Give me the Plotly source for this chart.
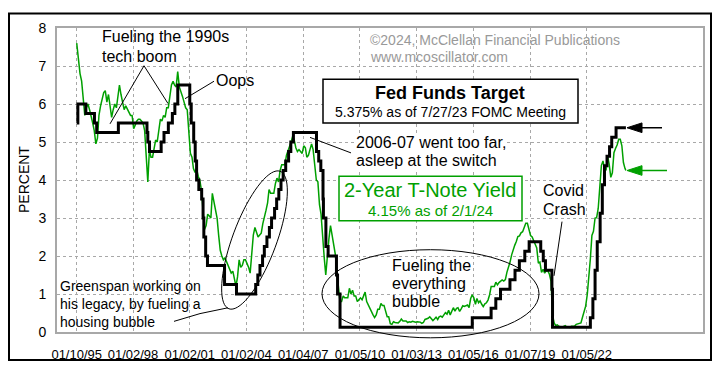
import plotly.graph_objects as go
import numpy as np

# ---------------- DATA ----------------
ff_dates = ["1995-01-10","1995-02-01","1995-07-06","1995-12-19","1996-01-31","1997-03-25",
            "1998-09-29","1998-10-15","1998-11-17","1999-06-30","1999-08-24","1999-11-16",
            "2000-02-02","2000-03-21","2000-05-16","2001-01-03","2001-01-31","2001-03-20",
            "2001-04-18","2001-05-15","2001-06-27","2001-08-21","2001-09-17","2001-10-02",
            "2001-11-06","2001-12-11","2002-11-06","2003-06-25","2004-06-30","2004-08-10",
            "2004-09-21","2004-11-10","2004-12-14","2005-02-02","2005-03-22","2005-05-03",
            "2005-06-30","2005-08-09","2005-09-20","2005-11-01","2005-12-13","2006-01-31",
            "2006-03-28","2006-05-10","2006-06-29","2007-09-18","2007-10-31","2007-12-11",
            "2008-01-22","2008-01-30","2008-03-18","2008-04-30","2008-10-08","2008-10-29",
            "2008-12-16","2015-12-16","2016-12-14","2017-03-15","2017-06-14","2017-12-13",
            "2018-03-21","2018-06-13","2018-09-26","2018-12-19","2019-07-31","2019-09-18",
            "2019-10-30","2020-03-03","2020-03-15","2022-03-16","2022-05-04","2022-06-15",
            "2022-07-27","2022-09-21","2022-11-02","2022-12-14","2023-02-01","2023-03-22",
            "2023-05-03","2023-07-26","2024-02-01"]
ff_values = [5.5,6.0,5.75,5.5,5.25,5.5,
             5.25,5.0,4.75,5.0,5.25,5.5,
             5.75,6.0,6.5,6.0,5.5,5.0,
             4.5,4.0,3.75,3.5,3.0,2.5,
             2.0,1.75,1.25,1.0,1.25,1.5,
             1.75,2.0,2.25,2.5,2.75,3.0,
             3.25,3.5,3.75,4.0,4.25,4.5,
             4.75,5.0,5.25,4.75,4.5,4.25,
             3.5,3.0,2.25,2.0,1.5,1.0,
             0.125,0.375,0.625,0.875,1.125,1.375,
             1.625,1.875,2.125,2.375,2.125,1.875,
             1.625,1.125,0.125,0.375,0.875,1.625,
             2.375,3.125,3.875,4.375,4.625,4.875,
             5.125,5.375,5.375]

y2_1995 = [7.6,7.1,6.8,6.6,6.1,5.7,5.9,6.0,5.85,5.7,5.5,5.3]
y2_1996 = [4.95,5.1,5.7,5.95,6.1,6.3,6.35,6.05,6.25,5.9,5.65,5.85]
y2_1997 = [6.0,5.9,6.25,6.5,6.25,6.05,5.85,5.95,5.85,5.75,5.7,5.7]
y2_1998 = [5.35,5.45,5.55,5.6,5.6,5.55,5.5,5.3,4.7,3.95,4.8,4.6]
y2_1999 = [4.6,4.9,5.05,5.0,5.3,5.6,5.55,5.7,5.65,5.9,5.9,6.15]
y2_2000 = [6.5,6.6,6.5,6.45,6.85,6.45,6.35,6.2,6.05,5.9,5.85,5.3]
y2_2001 = [4.7,4.6,4.3,4.2,4.3,4.1,4.0,3.75,3.1,2.7,2.8,3.1]
y2_2002 = [3.05,3.0,3.65,3.4,3.25,3.0,2.55,2.15,2.0,1.9,1.95,1.85]
y2_2003 = [1.75,1.65,1.55,1.6,1.4,1.2,1.45,1.9,1.7,1.75,1.9,1.9]
y2_2004 = [1.8,1.7,1.55,2.1,2.55,2.75,2.65,2.5,2.55,2.6,2.85,3.0]
y2_2005 = [3.2,3.4,3.75,3.65,3.65,3.65,3.9,4.05,3.95,4.25,4.4,4.4]
y2_2006 = [4.4,4.65,4.75,4.9,5.0,5.15,5.05,4.85,4.75,4.8,4.75,4.7]
y2_2007 = [4.9,4.85,4.6,4.65,4.8,4.95,4.8,4.3,4.0,3.95,3.35,3.1]
y2_2008 = [2.45,1.95,1.5,2.05,2.45,2.8,2.55,2.4,2.05,1.6,1.2,0.8]
y2_2009 = [0.8,0.95,0.9,0.9,0.9,1.15,1.0,1.1,0.95,0.95,0.8,0.85]
y2_2010 = [0.9,0.85,0.95,1.05,0.8,0.7,0.6,0.5,0.45,0.38,0.45,0.6]
y2_2011 = [0.6,0.75,0.7,0.7,0.55,0.4,0.4,0.22,0.2,0.27,0.25,0.25]
y2_2012 = [0.24,0.28,0.34,0.29,0.29,0.29,0.25,0.27,0.26,0.28,0.27,0.26]
y2_2013 = [0.27,0.27,0.26,0.23,0.25,0.33,0.34,0.36,0.4,0.34,0.3,0.34]
y2_2014 = [0.39,0.33,0.4,0.42,0.39,0.45,0.51,0.47,0.57,0.45,0.53,0.64]
y2_2015 = [0.55,0.62,0.64,0.54,0.61,0.69,0.67,0.7,0.71,0.64,0.88,0.98]
y2_2016 = [0.9,0.73,0.88,0.77,0.82,0.73,0.67,0.74,0.77,0.84,0.98,1.2]
y2_2017 = [1.21,1.2,1.31,1.24,1.3,1.34,1.37,1.34,1.38,1.57,1.7,1.84]
y2_2018 = [2.03,2.18,2.28,2.38,2.51,2.53,2.61,2.64,2.77,2.86,2.86,2.68]
y2_2019 = [2.54,2.5,2.41,2.34,2.21,1.81,1.84,1.57,1.65,1.55,1.61,1.61]
y2_2020 = [1.52,1.33,0.45,0.24,0.17,0.19,0.15,0.14,0.13,0.15,0.17,0.13]
y2_2021 = [0.13,0.12,0.15,0.16,0.16,0.2,0.22,0.22,0.24,0.39,0.52,0.68]
y2_2022 = [0.98,1.44,1.91,2.54,2.65,3.0,3.01,3.25,3.86,4.38,4.5,4.29]
y2_2023 = [4.27,4.62,4.41,4.07,4.19,4.72,4.83,4.92,5.07,5.07,4.9,4.46]
y2_2024 = [4.3,4.25]

tick_dates = ["1995-01-10","1998-01-02","2001-01-02","2004-01-02","2007-01-04",
              "2010-01-05","2013-01-03","2016-01-05","2019-01-07","2022-01-05"]
tick_labels = ["01/10/95","01/02/98","01/02/01","01/02/04","01/04/07",
               "01/05/10","01/03/13","01/05/16","01/07/19","01/05/22"]

# assemble yield series (monthly)
years = list(range(1995, 2024))
y2_by_year = [y2_1995,y2_1996,y2_1997,y2_1998,y2_1999,y2_2000,y2_2001,y2_2002,y2_2003,
              y2_2004,y2_2005,y2_2006,y2_2007,y2_2008,y2_2009,y2_2010,y2_2011,y2_2012,
              y2_2013,y2_2014,y2_2015,y2_2016,y2_2017,y2_2018,y2_2019,y2_2020,y2_2021,
              y2_2022,y2_2023]
y2_dates, y2_values = [], []
for yr, vals in zip(years, y2_by_year):
    for m, v in enumerate(vals):
        day = "10" if (yr == 1995 and m == 0) else "15"
        y2_dates.append(f"{yr}-{m+1:02d}-{day}")
        y2_values.append(v)
y2_dates += ["2024-01-15", "2024-02-01"]
y2_values += y2_2024

# ---------------- LAYOUT HELPERS ----------------
# The page body has an 8px margin, so the figure starts at page (8, 8).
OFF = 8
W, H = 726 - 2 * OFF, 382 - 2 * OFF
L, R, T, B = 57, 703, 24, 338          # plot area in page pixels
def px(x): return (x - L) / (R - L)
def py(y): return (B - y) / (B - T)

FONT = "Liberation Sans, Arial, sans-serif"
GREEN = "#00a000"
GRID = "#a8a8a8"

fig = go.Figure()
fig.add_trace(go.Scatter(x=y2_dates, y=y2_values, mode="lines",
                         line=dict(color=GREEN, width=1.5), hoverinfo="skip"))
fig.add_trace(go.Scatter(x=ff_dates, y=ff_values, mode="lines", line_shape="hv",
                         line=dict(color="black", width=3), hoverinfo="skip"))

shapes = []
annotations = []

def text(x, y, s, size=16, color="black", anchor="left", bold=False, bg=None):
    a = dict(x=px(x), y=py(y), xref="paper", yref="paper", text=("<b>%s</b>" % s) if bold else s,
             showarrow=False, xanchor=anchor, yanchor="middle", align="left",
             font=dict(family=FONT, size=size, color=color))
    if bg:
        a["bgcolor"] = bg
        a["borderpad"] = 0
    annotations.append(a)

def line(x0, y0, x1, y1, color="black", width=1):
    shapes.append(dict(type="line", xref="paper", yref="paper", x0=px(x0), y0=py(y0),
                       x1=px(x1), y1=py(y1), line=dict(color=color, width=width)))

def rect(x0, y0, x1, y1, color, width=1.5, fill=None):
    shapes.append(dict(type="rect", xref="paper", yref="paper", x0=px(x0), y0=py(y1),
                       x1=px(x1), y1=py(y0), line=dict(color=color, width=width),
                       fillcolor=fill or "rgba(0,0,0,0)", layer="above"))

# outer border
rect(9, 9, 711, 367, "black", 2)

# Fueling 1990s
text(100, 33, "Fueling the 1990s")
text(100, 53, "tech boom")
line(144, 63, 110, 123)
line(144, 63, 168, 102)
# Oops
text(214, 78, "Oops")
line(214, 79, 185, 97)
# copyright
text(368, 36, "©2024, McClellan Financial Publications", size=14, color="#999999")
text(368, 54, "www.mcoscillator.com", size=14, color="#999999")
# Fed funds box
rect(323, 77, 578, 122, "black", 1.5, "white")
text(450, 91, "Fed Funds Target", size=18, anchor="center", bold=True)
text(450, 111, "5.375% as of 7/27/23 FOMC Meeting", size=14, anchor="center")
# 2006-07
text(355, 142, "2006-07 went too far,", bg="white")
text(355, 161, "asleep at the switch", bg="white")
line(351, 153, 310, 137)
# green box
rect(339, 177, 522, 223, GREEN, 1.5, "white")
text(430, 191, "2-Year T-Note Yield", size=20, color=GREEN, anchor="center")
text(430, 212, "4.15% as of 2/1/24", size=15, color=GREEN, anchor="center")
# Covid
text(541, 192, "Covid")
text(541, 211, "Crash")
line(562, 224, 554, 280)
# everything bubble
text(390, 269, "Fueling the")
text(390, 288, "everything")
text(390, 307, "bubble")
shapes.append(dict(type="circle", xref="paper", yref="paper", x0=px(322), x1=px(539),
                   y0=py(344), y1=py(253), line=dict(color="black", width=1)))
# Greenspan (one multi-line text block)
text(58, 309, "Greenspan working on<br>his legacy, by fueling a<br>housing bubble", size=14)
line(174, 327, 200, 319)
line(200, 319, 228, 313)
# rotated ellipse
cx, cy, a_, b_ = 254.5, 243, 75.5, 22
ux, uy = 0.338, -0.941
vx, vy = -uy, ux
pts = []
for t in np.linspace(0, 2*np.pi, 73):
    X = cx + a_*np.cos(t)*ux + b_*np.sin(t)*vx
    Y = cy + a_*np.cos(t)*uy + b_*np.sin(t)*vy
    pts.append((px(X), py(Y)))
path = "M " + " L ".join(f"{x:.5f},{y:.5f}" for x, y in pts) + " Z"
shapes.append(dict(type="path", xref="paper", yref="paper", path=path,
                   line=dict(color="black", width=1)))

# arrows at the right end
def arrow(value, x_end, color):
    yv = value
    dy = 5 / 39.25
    tip, base = px(627), px(642)
    shapes.append(dict(type="path", xref="paper", yref="y",
                       path=f"M {tip},{yv} L {base},{yv+dy} L {base},{yv-dy} Z",
                       fillcolor=color, line=dict(color=color, width=1)))
    shapes.append(dict(type="line", xref="paper", yref="y", x0=base, x1=px(x_end),
                       y0=yv, y1=yv, line=dict(color=color, width=1.5)))
arrow(ff_values[-1], 662, "black")
arrow(y2_values[-1], 667, GREEN)

# PERCENT
annotations.append(dict(x=px(24), y=py(181), xref="paper", yref="paper", text="PERCENT",
                        textangle=-90, showarrow=False, xanchor="center", yanchor="middle",
                        font=dict(family=FONT, size=14, color="black")))

fig.update_layout(
    width=W, height=H,
    margin=dict(l=L - OFF, r=W - (R - OFF), t=T - OFF, b=H - (B - OFF)),
    paper_bgcolor="white", plot_bgcolor="white",
    showlegend=False,
    shapes=shapes, annotations=annotations,
    font=dict(family=FONT, size=13, color="black"),
)
fig.update_xaxes(type="date", range=["1993-12-25", "2028-03-01"],
                 tickvals=tick_dates, ticktext=tick_labels,
                 tickfont=dict(size=13, family=FONT),
                 showgrid=True, gridcolor=GRID, griddash="dot", gridwidth=1,
                 showline=True, linecolor=GRID, linewidth=2, mirror=True,
                 ticks="", ticklabelstandoff=9, zeroline=False)
fig.update_yaxes(range=[0, 8], dtick=1, tickfont=dict(size=14, family=FONT),
                 showgrid=True, gridcolor=GRID, griddash="dot", gridwidth=1,
                 showline=True, linecolor=GRID, linewidth=2, mirror=True,
                 ticks="", ticklabelstandoff=6, zeroline=False)

fig.write_html("out.html")
